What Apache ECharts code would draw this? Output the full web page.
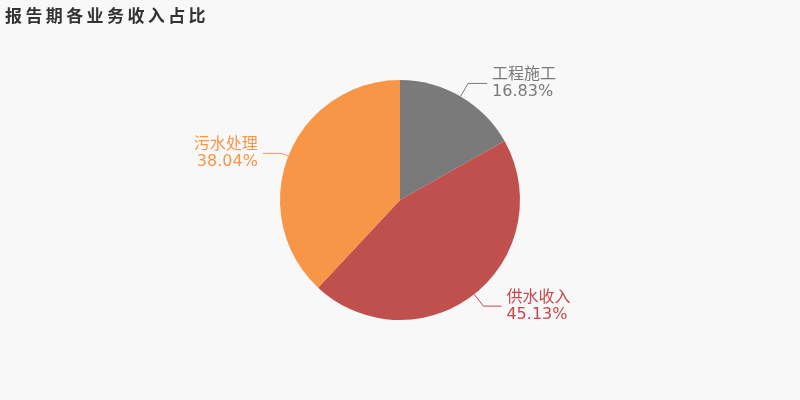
<!DOCTYPE html>
<html><head><meta charset="utf-8">
<script src="https://cdn.jsdelivr.net/npm/echarts@6/dist/echarts.min.js"></script>
<style>html,body{margin:0;padding:0;background:#f8f8f8;}#c{width:800px;height:400px;}</style>
</head><body><div id="c"></div>
<script>
const categories = ['工程施工', '供水收入', '污水处理'];
const values = [16.83, 45.13, 38.04];
const titleText = '报告期各业务收入占比';
const colors = ['#7a7a7a', '#c0504d', '#f79646'];
const labelColors = ['#7a7a7a', '#c9474a', '#f79646'];
const lineLen1 = [15, 15, 7];
const lineLen2 = [19, 18, 19];
const chart = echarts.init(document.getElementById('c'));
chart.setOption({
  backgroundColor: '#f8f8f8',
  animation: false,
  title: {
    text: titleText.split('').join('\u2009'),
    left: 0, top: 2,
    textStyle: {fontSize: 17, fontWeight: 'bold', color: '#333', fontFamily: 'Noto Sans CJK SC'}
  },
  series: [{
    type: 'pie',
    center: [400, 200],
    radius: [0, 120],
    startAngle: 90,
    clockwise: true,
    data: categories.map((c, i) => ({
      name: c, value: values[i],
      itemStyle: {color: colors[i]},
      label: {color: labelColors[i]},
      labelLine: {length: lineLen1[i], length2: lineLen2[i], lineStyle: {color: labelColors[i]}}
    })),
    label: {
      formatter: '{b}\n{d}%',
      fontSize: 16,
      lineHeight: 17,
      fontFamily: 'DejaVu Sans, Noto Sans CJK SC'
    },
    labelLine: {lineStyle: {width: 1}}
  }]
});
</script></body></html>
